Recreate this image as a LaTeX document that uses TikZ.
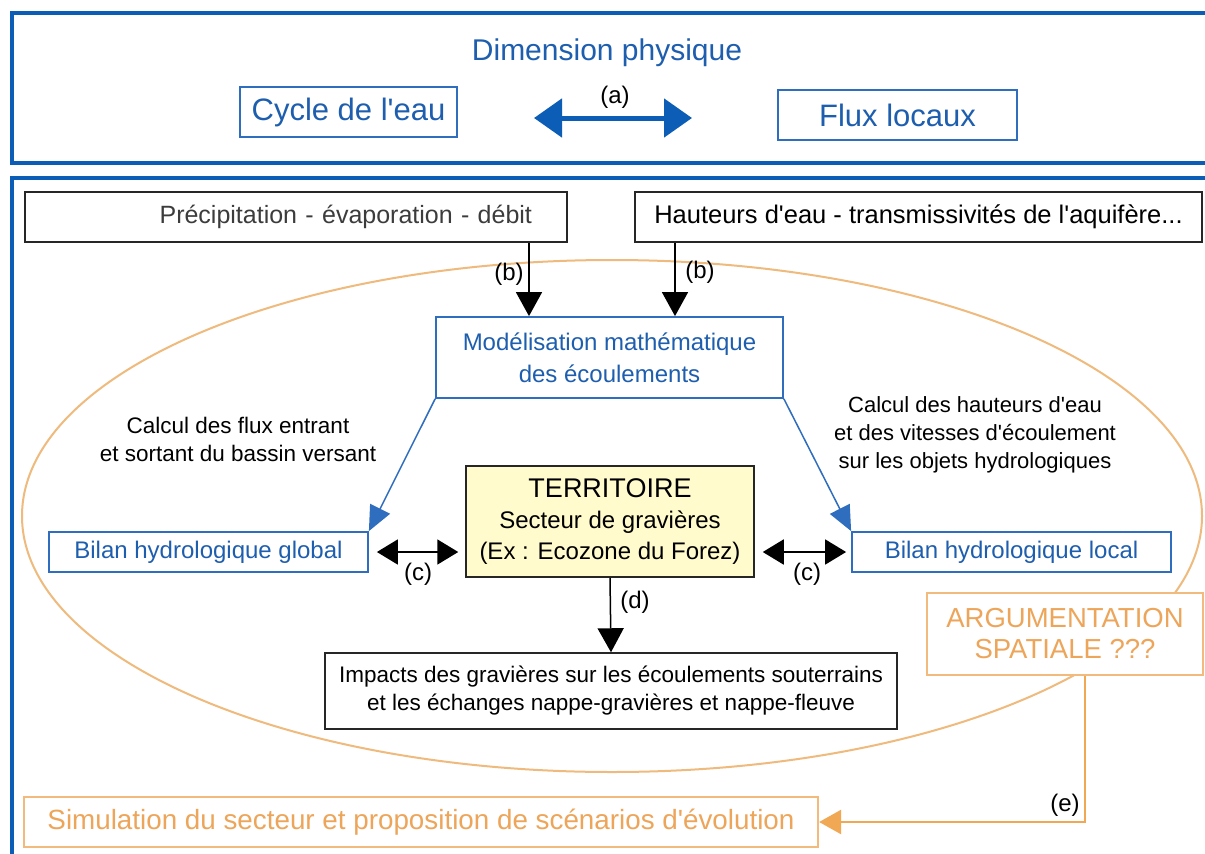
\documentclass[tikz,border=0pt]{standalone}
\usepackage{fontspec}
\setmainfont{Liberation Sans}[Ligatures=TeXOff]
\usetikzlibrary{arrows.meta,calc}
\definecolor{frameblue}{RGB}{11,93,182}
\definecolor{txtblue}{RGB}{30,94,174}
\definecolor{boxblue}{RGB}{47,109,190}
\definecolor{orline}{RGB}{240,168,85}
\definecolor{orboxc}{RGB}{242,186,125}
\definecolor{ortxt}{RGB}{237,165,90}
\definecolor{ellcol}{RGB}{239,186,125}
\definecolor{terrfill}{RGB}{255,251,204}
\definecolor{greytxt}{RGB}{60,60,60}
\begin{document}
\begin{tikzpicture}[x=1pt,y=-1pt,
  bluebox/.style={draw=boxblue, line width=1.8pt, text=txtblue, inner sep=0pt, align=center, fill=white},
  blackbox/.style={draw=black!85, line width=1.5pt, inner sep=0pt, fill=white, align=center},
  orbox/.style={draw=orboxc, line width=2.2pt, text=ortxt, fill=white, inner sep=0pt, align=center},
  lbl/.style={font=\fontsize{24}{28}\selectfont, inner sep=0pt},
  blkarrow/.style={-{Triangle[length=24pt,width=26pt]}, line width=1.5pt, black},
  dblarrow/.style={{Triangle[length=21pt,width=25pt]}-{Triangle[length=21pt,width=25pt]}, line width=1.8pt, black},
  bluearrow/.style={-{Triangle[length=25pt,width=22pt]}, line width=1.5pt, boxblue},
  bigarrow/.style={{Triangle[length=28pt,width=38pt]}-{Triangle[length=28pt,width=38pt]}, line width=5pt, frameblue},
  orarrow/.style={-{Triangle[length=22pt,width=24pt]}, line width=2.5pt, orline},
  frame/.style={draw=frameblue, line width=4.5pt}
]
\useasboundingbox (0,0) rectangle (1205,854);
\fill[white] (0,0) rectangle (1205,854);

% frames
\draw[frame] (1210,13) -- (12,13) -- (12,163) -- (1210,163);
\draw[frame] (1210,178) -- (12,178) -- (12,860);

% top section
\node[text=txtblue, font=\fontsize{30}{36}\selectfont, inner sep=0pt] (title) at (607,53) {Dimension physique};
\node[bluebox, minimum width=217pt, minimum height=50pt, font=\fontsize{31}{36}\selectfont] (cycle) at (348.5,112) {Cycle de l'eau};
\node[bluebox, minimum width=239pt, minimum height=50pt, font=\fontsize{31}{36}\selectfont] (flux) at (897.5,115) {Flux locaux};
\coordinate (a1) at (534,118);
\coordinate (a2) at (692,118);
\draw[bigarrow] (a1) -- (a2);
\node[lbl] (la) at (615,97) {(a)};

% ellipse
\draw[ellcol, line width=2pt] (612,516) ellipse [x radius=590pt, y radius=256pt];

% inputs
\node[blackbox, minimum height=50pt, text width=472pt, inner xsep=35pt, align=right, text=greytxt, font=\fontsize{25}{30}\selectfont] (prec) at (296,217) {Précipitation - évaporation - débit};
\node[blackbox, minimum width=567pt, minimum height=50pt, font=\fontsize{25.5}{30}\selectfont] (haut) at (918.5,217) {Hauteurs d'eau - transmissivités de l'aquifère...};

% modelling
\node[bluebox, minimum width=347pt, minimum height=81pt, font=\fontsize{24}{32}\selectfont] (mod) at (609.5,357.5) {Modélisation mathématique\\des écoulements};

\coordinate (xb1) at (529,0);
\coordinate (xb2) at (675,0);
\draw[blkarrow] (prec.south -| xb1) -- (mod.north -| xb1);
\draw[blkarrow] (haut.south -| xb2) -- (mod.north -| xb2);
\node[lbl] (lb1) at (509,274) {(b)};
\node[lbl] (lb2) at (700,272) {(b)};

% calculation texts
\node[align=center, font=\fontsize{22.5}{28}\selectfont, inner sep=0pt] (calcl) at (238,439) {Calcul des flux entrant\\et sortant du bassin versant};
\node[align=center, font=\fontsize{22}{28}\selectfont, inner sep=0pt] (calcr) at (975,435) {Calcul des hauteurs d'eau\\et des vitesses d'écoulement\\sur les objets hydrologiques};

% balances
\node[bluebox, minimum width=319pt, minimum height=40pt, font=\fontsize{24}{28}\selectfont] (bg) at (208.5,552) {Bilan hydrologique global};
\node[bluebox, minimum width=319pt, minimum height=40pt, font=\fontsize{24}{28}\selectfont] (bl) at (1011.5,552) {Bilan hydrologique local};

% territory
\node[draw=black!85, line width=1.5pt, fill=terrfill, minimum width=288pt, minimum height=111pt, inner sep=0pt, align=center, font=\fontsize{24}{31}\selectfont] (terr) at (610,521.5) {{\fontsize{27}{31}\selectfont TERRITOIRE}\\Secteur de gravières\\(Ex : Ecozone du Forez)};

\draw[bluearrow] (mod.south west) -- (bg.north east);
\draw[bluearrow] (mod.south east) -- (bl.north west);

\draw[dblarrow] ([xshift=8pt]bg.east) -- ([xshift=-7pt]bg.east -| terr.west);
\draw[dblarrow] ([xshift=8pt]terr.east |- bl.west) -- ([xshift=-5pt]bl.west);
\node[lbl] (lc1) at (418,574) {(c)};
\node[lbl] (lc2) at (807,574) {(c)};

% impacts
\node[blackbox, minimum width=572pt, minimum height=76pt, font=\fontsize{22.5}{28}\selectfont] (imp) at (611,691) {Impacts des gravières sur les écoulements souterrains\\et les échanges nappe-gravières et nappe-fleuve};
\draw[blkarrow] (terr.south) -- (imp.north);
\node[lbl] (ld) at (635,602) {(d)};

% argumentation and simulation
\node[orbox, minimum width=276pt, minimum height=82pt, font=\fontsize{27.5}{31}\selectfont] (arg) at (1065,634) {ARGUMENTATION\\SPATIALE ???};
\node[orbox, minimum width=794pt, minimum height=50pt, font=\fontsize{27.8}{32}\selectfont] (sim) at (421,822) {Simulation du secteur et proposition de scénarios d'évolution};
\coordinate (xe) at (1085,0);
\draw[orarrow] (arg.south -| xe) -- (xe |- sim.east) -- (sim.east);
\node[lbl] (le) at (1065,805) {(e)};
\end{tikzpicture}
\end{document}
